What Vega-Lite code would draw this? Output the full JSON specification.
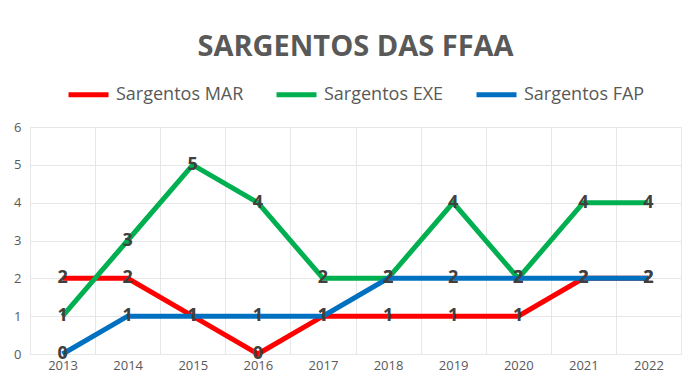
{
  "$schema": "https://vega.github.io/schema/vega-lite/v6.json",
  "width": 697,
  "height": 386,
  "autosize": {"type": "fit", "contains": "padding"},
  "padding": {"left": 13, "right": 16, "top": 33, "bottom": 14},
  "background": "white",
  "title": {
    "text": "SARGENTOS DAS FFAA",
    "font": "Open Sans",
    "fontSize": 29,
    "fontWeight": "bold",
    "color": "#595959",
    "anchor": "middle",
    "offset": 10
  },
  "data": {
    "values": [
      {"ano": "2013", "serie": "Sargentos MAR", "valor": 2},
      {"ano": "2014", "serie": "Sargentos MAR", "valor": 2},
      {"ano": "2015", "serie": "Sargentos MAR", "valor": 1},
      {"ano": "2016", "serie": "Sargentos MAR", "valor": 0},
      {"ano": "2017", "serie": "Sargentos MAR", "valor": 1},
      {"ano": "2018", "serie": "Sargentos MAR", "valor": 1},
      {"ano": "2019", "serie": "Sargentos MAR", "valor": 1},
      {"ano": "2020", "serie": "Sargentos MAR", "valor": 1},
      {"ano": "2021", "serie": "Sargentos MAR", "valor": 2},
      {"ano": "2022", "serie": "Sargentos MAR", "valor": 2},
      {"ano": "2013", "serie": "Sargentos EXE", "valor": 1},
      {"ano": "2014", "serie": "Sargentos EXE", "valor": 3},
      {"ano": "2015", "serie": "Sargentos EXE", "valor": 5},
      {"ano": "2016", "serie": "Sargentos EXE", "valor": 4},
      {"ano": "2017", "serie": "Sargentos EXE", "valor": 2},
      {"ano": "2018", "serie": "Sargentos EXE", "valor": 2},
      {"ano": "2019", "serie": "Sargentos EXE", "valor": 4},
      {"ano": "2020", "serie": "Sargentos EXE", "valor": 2},
      {"ano": "2021", "serie": "Sargentos EXE", "valor": 4},
      {"ano": "2022", "serie": "Sargentos EXE", "valor": 4},
      {"ano": "2013", "serie": "Sargentos FAP", "valor": 0},
      {"ano": "2014", "serie": "Sargentos FAP", "valor": 1},
      {"ano": "2015", "serie": "Sargentos FAP", "valor": 1},
      {"ano": "2016", "serie": "Sargentos FAP", "valor": 1},
      {"ano": "2017", "serie": "Sargentos FAP", "valor": 1},
      {"ano": "2018", "serie": "Sargentos FAP", "valor": 2},
      {"ano": "2019", "serie": "Sargentos FAP", "valor": 2},
      {"ano": "2020", "serie": "Sargentos FAP", "valor": 2},
      {"ano": "2021", "serie": "Sargentos FAP", "valor": 2},
      {"ano": "2022", "serie": "Sargentos FAP", "valor": 2}
    ]
  },
  "encoding": {
    "x": {
      "field": "ano",
      "type": "nominal",
      "scale": {"type": "band", "paddingInner": 0, "paddingOuter": 0},
      "axis": {
        "title": null,
        "labelAngle": 0,
        "labelFont": "Open Sans",
        "labelFontSize": 13,
        "labelColor": "#595959",
        "labelPadding": 5,
        "domain": false,
        "ticks": false,
        "grid": true,
        "tickBand": "extent",
        "gridColor": "#e6e6e6",
        "gridWidth": 1
      }
    },
    "y": {
      "field": "valor",
      "type": "quantitative",
      "scale": {"domain": [0, 6]},
      "axis": {
        "title": null,
        "values": [0, 1, 2, 3, 4, 5, 6],
        "labelFont": "Open Sans",
        "labelFontSize": 13,
        "labelColor": "#595959",
        "labelPadding": 9,
        "domain": false,
        "ticks": false,
        "gridColor": "#e6e6e6",
        "gridWidth": 1
      }
    }
  },
  "layer": [
    {
      "mark": {"type": "line", "strokeWidth": 5, "strokeCap": "butt", "strokeJoin": "miter"},
      "encoding": {
        "color": {
          "field": "serie",
          "type": "nominal",
          "scale": {
            "domain": ["Sargentos MAR", "Sargentos EXE", "Sargentos FAP"],
            "range": ["#FF0000", "#00B050", "#0070C0"]
          },
          "legend": {
            "title": null,
            "orient": "top",
            "direction": "horizontal",
            "symbolType": "stroke",
            "symbolStrokeWidth": 5,
            "symbolSize": 1600,
            "labelFont": "Open Sans",
            "labelFontSize": 18,
            "labelColor": "#595959",
            "labelOffset": 5,
            "columnPadding": 22,
            "offset": 22
          }
        }
      }
    },
    {
      "mark": {
        "type": "text",
        "font": "Open Sans",
        "fontSize": 18,
        "fontWeight": "bold",
        "color": "#404040",
        "baseline": "middle",
        "align": "center"
      },
      "encoding": {
        "text": {"field": "valor", "type": "quantitative"}
      }
    }
  ],
  "config": {
    "view": {"stroke": null},
    "legend": {"layout": {"top": {"anchor": "middle"}}}
  }
}
